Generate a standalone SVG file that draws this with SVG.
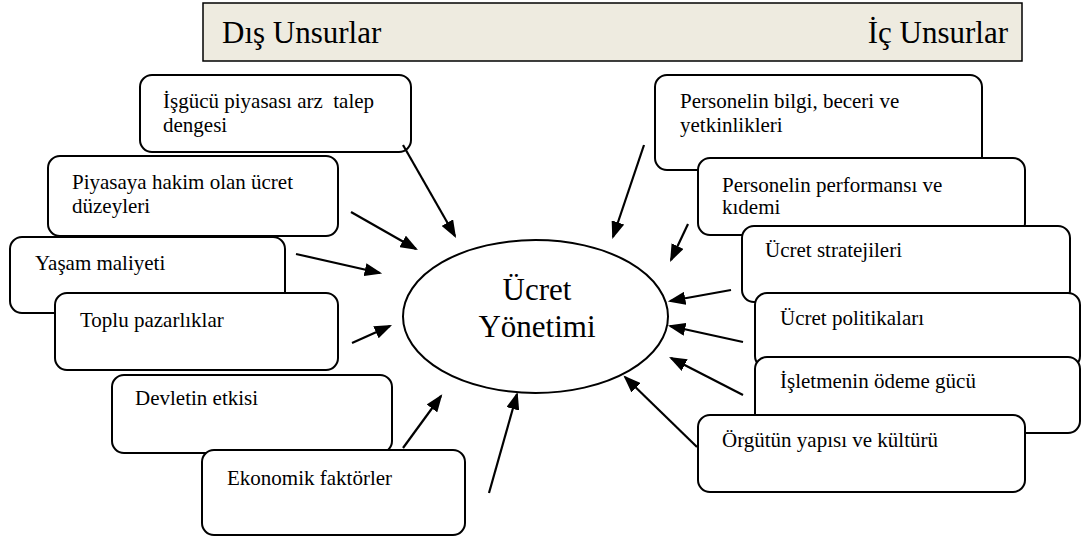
<svg xmlns="http://www.w3.org/2000/svg" width="1081" height="537" viewBox="0 0 1081 537">
<style>
.box{fill:#fff;stroke:#000;stroke-width:2}
.a{stroke:#000;stroke-width:2.2;fill:none;marker-end:url(#ah)}
</style>
<defs>
<marker id="ah" markerWidth="8" markerHeight="6" refX="7" refY="3" orient="auto" markerUnits="strokeWidth">
<path d="M0,0 L8,3 L0,6 Z" fill="#000"/>
</marker>
</defs>
<rect width="1081" height="537" fill="#fff"/>
<g id="header" font-family="'Liberation Serif', 'Times New Roman', serif" font-size="31">
<rect x="203" y="3" width="819" height="58" fill="#EEEBE0" stroke="#000" stroke-width="1.5"/>
<text x="222" y="43">Dış Unsurlar</text>
<text x="1008" y="43" text-anchor="end">İç Unsurlar</text>
</g>
<g font-family="'Liberation Serif', 'Times New Roman', serif" font-size="21" fill="#000">
<g id="n1"><rect class="box" x="140" y="75" width="271" height="77" rx="12"/><text x="163" y="108" xml:space="preserve">İşgücü piyasası arz  talep</text><text x="163" y="132">dengesi</text></g>
<g id="n2"><rect class="box" x="48" y="156" width="290" height="80" rx="12"/><text x="72" y="189">Piyasaya hakim olan ücret</text><text x="72" y="213">düzeyleri</text></g>
<g id="n3"><rect class="box" x="10" y="237" width="275" height="76" rx="12"/><text x="35" y="270">Yaşam maliyeti</text></g>
<g id="n4"><rect class="box" x="55" y="293" width="283" height="77" rx="12"/><text x="80" y="327">Toplu pazarlıklar</text></g>
<g id="n5"><rect class="box" x="112" y="375" width="280" height="78" rx="12"/><text x="135" y="405">Devletin etkisi</text></g>
<g id="n6"><rect class="box" x="202" y="450" width="263" height="85" rx="12"/><text x="227" y="485">Ekonomik faktörler</text></g>
<g id="n7"><rect class="box" x="655" y="75" width="327" height="95" rx="12"/><text x="680" y="108">Personelin bilgi, beceri ve</text><text x="680" y="132">yetkinlikleri</text></g>
<g id="n8"><rect class="box" x="698" y="158" width="327" height="77" rx="12"/><text x="722" y="192">Personelin performansı ve</text><text x="722" y="214">kıdemi</text></g>
<g id="n9"><rect class="box" x="742" y="226" width="328" height="76" rx="12"/><text x="765" y="257">Ücret stratejileri</text></g>
<g id="n10"><rect class="box" x="755" y="293" width="325" height="75" rx="12"/><text x="780" y="325">Ücret politikaları</text></g>
<g id="n11"><rect class="box" x="755" y="357" width="325" height="76" rx="12"/><text x="780" y="388">İşletmenin ödeme gücü</text></g>
<g id="n12"><rect class="box" x="698" y="415" width="327" height="77" rx="12"/><text x="722" y="447">Örgütün yapısı ve kültürü</text></g>
</g>
<g id="center" font-family="'Liberation Serif', 'Times New Roman', serif" font-size="31" text-anchor="middle"><ellipse cx="535.5" cy="316.5" rx="132.5" ry="76.5" fill="#fff" stroke="#000" stroke-width="2"/><text x="537" y="300">Ücret</text><text x="537" y="337">Yönetimi</text></g>
<g id="connectors">
<line class="a" x1="403" y1="145" x2="455" y2="236"/>
<line class="a" x1="351" y1="212" x2="416" y2="249"/>
<line class="a" x1="296" y1="254" x2="380" y2="273"/>
<line class="a" x1="352" y1="343" x2="390" y2="326"/>
<line class="a" x1="403" y1="448" x2="441" y2="396"/>
<line class="a" x1="489" y1="493" x2="517" y2="394"/>
<line class="a" x1="644" y1="145" x2="613" y2="237"/>
<line class="a" x1="688" y1="224" x2="671" y2="260"/>
<line class="a" x1="731" y1="290" x2="670" y2="301"/>
<line class="a" x1="743" y1="342" x2="670" y2="326"/>
<line class="a" x1="743" y1="395" x2="671" y2="358"/>
<line class="a" x1="697" y1="447" x2="625" y2="377"/>
</g>
</svg>
